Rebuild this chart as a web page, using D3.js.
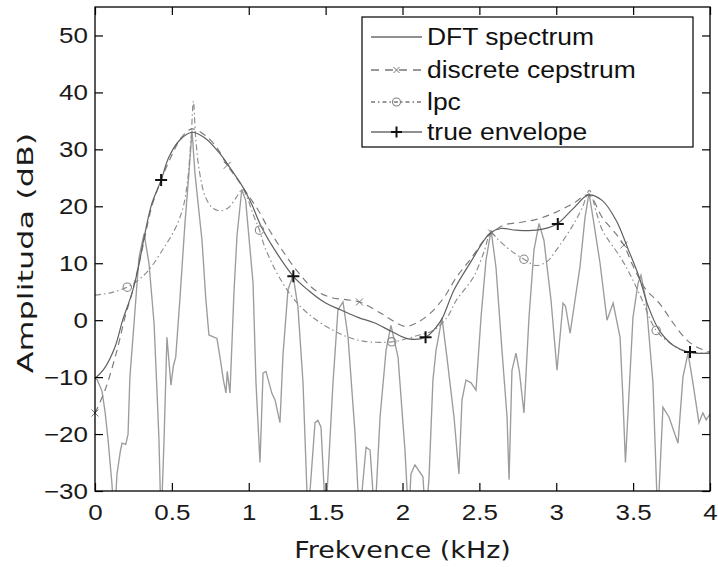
<!DOCTYPE html>
<html><head><meta charset="utf-8">
<script src="https://cdn.jsdelivr.net/npm/d3@7"></script>
<style>body{margin:0;background:#fff}</style>
</head><body>
<svg id="c" width="718" height="567"></svg>
<script>
const xTicks=[0,0.5,1,1.5,2,2.5,3,3.5,4];
const yTicks=[-30,-20,-10,0,10,20,30,40,50];
const seriesNames=["DFT spectrum","discrete cepstrum","lpc","true envelope"];
const xLabel="Frekvence (kHz)";
const yLabel="Amplituda (dB)";

const dftSpectrum=[[0,-10.2],[0.015,-10.5],[0.046,-12.5],[0.065,-16],[0.085,-21],[0.111,-29],[0.125,-36],[0.143,-27],[0.165,-23],[0.176,-21.6],[0.2,-21.8],[0.215,-20],[0.227,-10],[0.254,-0.5],[0.286,11],[0.319,15.2],[0.351,10],[0.384,-0.5],[0.403,-12.3],[0.416,-21],[0.43,-36],[0.449,-21],[0.468,-3],[0.494,-11.4],[0.51,-8],[0.525,-6.5],[0.553,4],[0.585,17],[0.611,25.8],[0.631,33.3],[0.65,25.8],[0.696,14],[0.72,4],[0.741,-2.6],[0.793,-3.2],[0.813,-6.5],[0.835,-10.5],[0.852,-12.8],[0.86,-9],[0.878,-12.8],[0.904,5],[0.924,15],[0.955,23],[0.98,21],[1.028,6.5],[1.047,-11],[1.073,-25],[1.093,-9.3],[1.112,-9],[1.15,-12.8],[1.171,-14],[1.203,-18],[1.223,-6],[1.255,5.3],[1.288,7.9],[1.32,2.3],[1.353,-11],[1.385,-35],[1.431,-18],[1.45,-17.6],[1.47,-18.8],[1.5,-35],[1.548,-11],[1.58,1.8],[1.613,3.2],[1.646,-3],[1.691,-19.8],[1.72,-35],[1.763,-22.3],[1.789,-22.8],[1.82,-35],[1.854,-17],[1.893,-5.3],[1.925,-0.9],[1.971,-6.5],[2.016,-22.8],[2.04,-35],[2.055,-27],[2.081,-25.4],[2.133,-27.5],[2.15,-35],[2.172,-28],[2.198,-10.5],[2.218,-5.3],[2.257,0.4],[2.289,-6.5],[2.335,-17],[2.367,-27],[2.387,-14],[2.413,-10.5],[2.446,-11],[2.478,-12.3],[2.511,0.6],[2.543,10.5],[2.576,15.8],[2.608,9.3],[2.647,-5.3],[2.68,-17],[2.693,-28],[2.712,-8.8],[2.738,-5.8],[2.76,-9],[2.79,-16.3],[2.823,0.6],[2.855,12.3],[2.888,17],[2.92,14],[2.966,3.5],[3.005,-8.8],[3.044,3],[3.06,2.5],[3.09,-2.3],[3.154,9.3],[3.187,18],[3.213,22.3],[3.239,18],[3.285,10],[3.33,0],[3.37,3],[3.415,-3],[3.434,-14],[3.45,-25],[3.499,0.5],[3.532,6.5],[3.551,7.9],[3.584,3.5],[3.629,-11],[3.66,-35],[3.694,-15.3],[3.733,-17],[3.792,-21.6],[3.824,-10],[3.857,-5.8],[3.889,-11],[3.928,-18],[3.954,-16.3],[3.975,-17.5],[4.0,-16.5]];

const discreteCepstrum=[[0,-16.3],[0.065,-12.3],[0.143,-5.3],[0.195,0.5],[0.24,4.7],[0.31,12.8],[0.37,20],[0.43,24.6],[0.5,29],[0.56,32],[0.63,33.6],[0.72,32.4],[0.8,30],[0.86,27.2],[0.93,24.6],[1.0,21.8],[1.06,19.4],[1.13,16],[1.21,12.6],[1.31,8.8],[1.43,5.3],[1.535,4],[1.63,3.6],[1.72,3.2],[1.86,1.2],[1.95,-0.3],[2.02,-1.1],[2.09,-0.5],[2.18,1.2],[2.27,4],[2.35,7.5],[2.45,11],[2.54,14.4],[2.58,15.3],[2.66,16.7],[2.77,17.2],[2.87,17.7],[2.985,18.8],[3.11,20.5],[3.21,22],[3.3,18],[3.39,15.1],[3.44,13.2],[3.5,9.5],[3.58,5.5],[3.67,3],[3.76,-0.5],[3.85,-3.5],[3.92,-4.8],[4.0,-5.6]];

const lpc=[[0,4.4],[0.1,4.8],[0.21,5.8],[0.28,7],[0.35,8.8],[0.45,12.8],[0.52,16],[0.57,19.5],[0.6,24],[0.625,32],[0.64,38.5],[0.655,32],[0.68,26],[0.72,21.5],[0.77,19.6],[0.82,19.2],[0.87,19.8],[0.92,21.6],[0.96,23],[0.99,21.5],[1.03,18.5],[1.07,15.8],[1.105,12.8],[1.21,7],[1.34,2.3],[1.51,-1.2],[1.71,-3.5],[1.93,-3.8],[2.11,-2.6],[2.2,-1.8],[2.29,0.5],[2.35,3.5],[2.46,7.5],[2.53,12],[2.575,15.4],[2.62,14.2],[2.7,12.3],[2.79,10.7],[2.87,9.6],[2.94,10.3],[3.0,12.3],[3.1,16.3],[3.17,19.8],[3.215,22.8],[3.26,19],[3.3,15.8],[3.43,10.5],[3.54,4.7],[3.65,-1.8],[3.74,-4],[3.82,-5.3],[3.9,-5.7],[4.0,-5.8]];

const trueEnvelope=[[0,-10.2],[0.06,-8.5],[0.13,-4.7],[0.18,0],[0.24,4.7],[0.28,9],[0.32,14.6],[0.37,20.5],[0.43,24.6],[0.48,28.6],[0.55,31.6],[0.63,33],[0.715,32],[0.805,29.5],[0.89,26.3],[0.97,23],[1.02,20.3],[1.08,16.5],[1.17,12.3],[1.29,7.7],[1.385,5.3],[1.5,3],[1.6,1.8],[1.71,0.5],[1.82,-0.5],[1.93,-2],[2.04,-3.3],[2.15,-3],[2.22,-1.2],[2.26,0.4],[2.335,5.3],[2.45,10.5],[2.53,14],[2.57,15.3],[2.64,16.1],[2.74,15.8],[2.87,15.8],[3.0,16.8],[3.11,19.6],[3.21,22],[3.3,21],[3.39,17.5],[3.47,12.3],[3.54,7.5],[3.6,2.3],[3.67,-1.8],[3.76,-4.4],[3.86,-5.6],[4.0,-5.8]];

const cepstrumMarkers=[[0,-16.3],[0.86,27.2],[1.72,3.2],[2.58,15.3],[3.44,13.2]];
const lpcMarkers=[[0.21,5.8],[1.07,15.8],[1.93,-3.8],[2.79,10.7],[3.65,-1.8]];
const envelopeMarkers=[[0.43,24.6],[1.29,7.7],[2.15,-3],[3.01,16.9],[3.87,-5.6]];

const W=718,H=567,L=95,R=710,T=7,B=491;
const svg=d3.select("#c");
const x=d3.scaleLinear().domain([0,4]).range([L,R]);
const y=d3.scaleLinear().domain([-30,55]).range([B,T]);

function stretch(sel,k){sel.each(function(){const w=this.getComputedTextLength();this.setAttribute("textLength",w*k);this.setAttribute("lengthAdjust","spacingAndGlyphs");});}

svg.append("defs").append("clipPath").attr("id","clip").append("rect").attr("x",L).attr("y",T).attr("width",R-L).attr("height",B-T);

const plot=svg.append("g").attr("clip-path","url(#clip)");
const lineLin=d3.line().x(d=>x(d[0])).y(d=>y(d[1]));
const lineSmooth=d3.line().x(d=>x(d[0])).y(d=>y(d[1])).curve(d3.curveCatmullRom.alpha(0.5));

const styles={
  dft:{stroke:"#9c9c9c",w:1.35,dash:null},
  cep:{stroke:"#7a7a7a",w:1.15,dash:"7,5"},
  lpc:{stroke:"#8c8c8c",w:1.15,dash:"6,3,1.5,3"},
  env:{stroke:"#606060",w:1.2,dash:null}
};
function addLine(data,gen,s){
  plot.append("path").datum(data).attr("d",gen).attr("fill","none")
   .attr("stroke",s.stroke).attr("stroke-width",s.w).attr("stroke-dasharray",s.dash);
}
addLine(dftSpectrum,lineLin,styles.dft);
addLine(lpc,lineSmooth,styles.lpc);
addLine(discreteCepstrum,lineSmooth,styles.cep);
addLine(trueEnvelope,lineSmooth,styles.env);

function xMark(g,cx,cy,s,col,w){g.append("path").attr("d",`M${cx-s},${cy-s}L${cx+s},${cy+s}M${cx-s},${cy+s}L${cx+s},${cy-s}`).attr("stroke",col).attr("stroke-width",w).attr("fill","none");}
function plusMark(g,cx,cy,s,col,w){g.append("path").attr("d",`M${cx-s},${cy}L${cx+s},${cy}M${cx},${cy-s}L${cx},${cy+s}`).attr("stroke",col).attr("stroke-width",w).attr("fill","none");}
function circMark(g,cx,cy,r,col,w){g.append("circle").attr("cx",cx).attr("cy",cy).attr("r",r).attr("stroke",col).attr("stroke-width",w).attr("fill","none");}

const mk=svg.append("g");
cepstrumMarkers.forEach(d=>xMark(mk,x(d[0]),y(d[1]),3.5,"#777",1));
lpcMarkers.forEach(d=>circMark(mk,x(d[0]),y(d[1]),4.2,"#888",1.1));
envelopeMarkers.forEach(d=>plusMark(mk,x(d[0]),y(d[1]),6,"#111",2));

// axes
const font="'Liberation Sans', Arial, sans-serif";
const ax=svg.append("g");
const gL=ax.append("g").attr("transform",`translate(${L},0)`).call(d3.axisLeft(y).tickValues(yTicks).tickSizeInner(-8).tickSizeOuter(0).tickPadding(7).tickFormat(d=>d<0?"\u2212"+Math.abs(d):d));
const gB=ax.append("g").attr("transform",`translate(0,${B})`).call(d3.axisBottom(x).tickValues(xTicks).tickSizeInner(-8).tickSizeOuter(0).tickPadding(13).tickFormat(d=>d));
const gR=ax.append("g").attr("transform",`translate(${R},0)`).call(d3.axisRight(y).tickValues(yTicks).tickSizeInner(-8).tickSizeOuter(0).tickFormat(""));
const gT=ax.append("g").attr("transform",`translate(0,${T})`).call(d3.axisTop(x).tickValues(xTicks).tickSizeInner(-8).tickSizeOuter(0).tickFormat(""));
[gL,gB,gR,gT].forEach(g=>{g.select(".domain").remove();g.selectAll("line").attr("stroke","#000").attr("stroke-width",1.2);g.selectAll("text").attr("font-family",font).attr("font-size",22).attr("fill","#1a1a1a");});
stretch(gL.selectAll("text"),1.18);
stretch(gB.selectAll("text"),1.18);
svg.append("rect").attr("x",L).attr("y",T).attr("width",R-L).attr("height",B-T).attr("fill","none").attr("stroke","#000").attr("stroke-width",1.3);

// axis labels
const lf="'DejaVu Sans', sans-serif";
const xl=svg.append("text").attr("x",(L+R)/2).attr("y",558).attr("text-anchor","middle").attr("font-family",lf).attr("font-size",23).attr("fill","#1a1a1a").text(xLabel);
stretch(xl,1.17);
const yl=svg.append("text").attr("transform",`translate(33,${(B+T)/2+4}) rotate(-90)`).attr("text-anchor","middle").attr("font-family",lf).attr("font-size",22).attr("fill","#1a1a1a").text(yLabel);
stretch(yl,1.45);

// legend
const lg=svg.append("g");
lg.append("rect").attr("x",362).attr("y",17).attr("width",331).attr("height",130).attr("fill","#fff").attr("stroke","#000").attr("stroke-width",1.2);
const rowY=[37,70,102,132];
const legStyles=[
  {stroke:"#222",dash:null,mark:null},
  {stroke:"#333",dash:"8,6",mark:"x"},
  {stroke:"#333",dash:"4,3,1.5,3",mark:"o"},
  {stroke:"#222",dash:null,mark:"+"}
];
seriesNames.forEach((n,i)=>{
  const s=legStyles[i],cy=rowY[i];
  lg.append("line").attr("x1",371).attr("x2",422).attr("y1",cy).attr("y2",cy).attr("stroke",s.stroke).attr("stroke-width",1.2).attr("stroke-dasharray",s.dash);
  if(s.mark==="x") xMark(lg,396.5,cy,3,"#707070",1);
  if(s.mark==="o") circMark(lg,396.5,cy,4,"#808080",1.1);
  if(s.mark==="+") plusMark(lg,396.5,cy,5.5,"#111",2);
  const t=lg.append("text").attr("x",427).attr("y",cy+8).attr("font-family",font).attr("font-size",23).attr("fill","#111").text(n);
  stretch(t,1.15);
});
</script>
</body></html>
